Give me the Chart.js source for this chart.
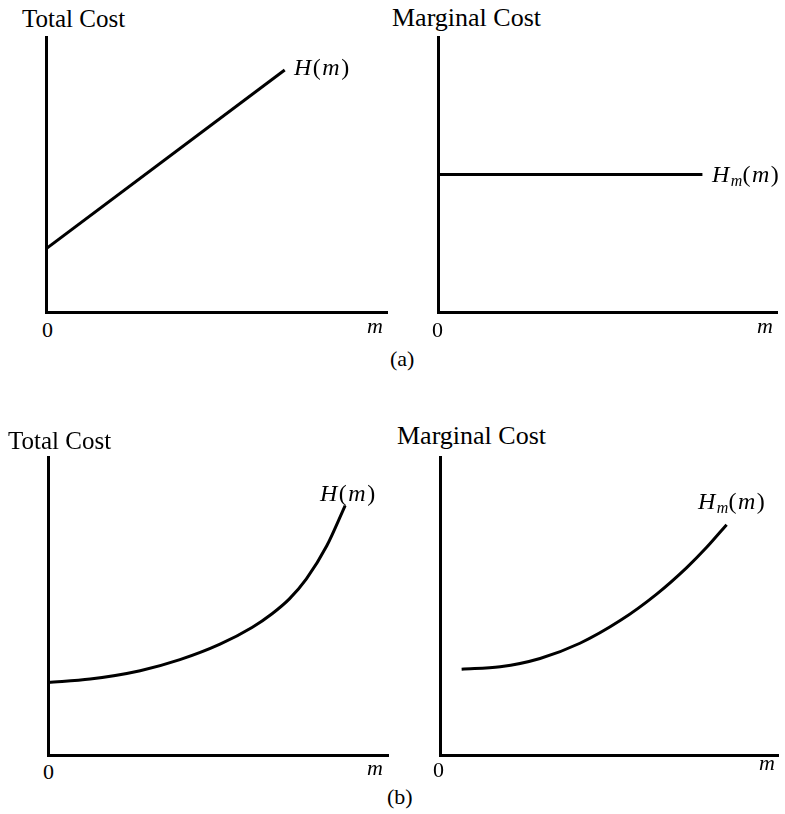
<!DOCTYPE html>
<html>
<head>
<meta charset="utf-8">
<script src="https://cdn.jsdelivr.net/npm/chart.js@4"></script>
<style>
  body { margin: 0; background: #fff; }
  #wrap { position: relative; width: 785px; height: 814px; font-family: "Liberation Serif", "DejaVu Serif", serif; color: #000; }
  canvas { position: absolute; }
  .lbl { position: absolute; white-space: nowrap; }
  .ttl { font-size: 25px; line-height: 25px; }
  .tick { font-size: 22px; line-height: 22px; }
  .fn { font-size: 24px; line-height: 24px; letter-spacing: 1.5px; }
  .fn sub { font-size: 16px; vertical-align: -4px; line-height: 0; letter-spacing: 0; }
</style>
</head>
<body>
<div id="wrap">
  <canvas id="totalA" width="349" height="283" style="left:42px;top:33px"></canvas>
  <canvas id="marginalA" width="347" height="283" style="left:434px;top:33px"></canvas>
  <canvas id="totalB" width="348" height="306" style="left:44px;top:453px"></canvas>
  <canvas id="marginalB" width="346" height="306" style="left:436px;top:453px"></canvas>

  <div class="lbl ttl" style="left:22px;top:6px">Total Cost</div>
  <div class="lbl ttl" style="left:392px;top:5px;font-size:26px">Marginal Cost</div>
  <div class="lbl fn" style="left:294px;top:55px"><i>H</i>(<i>m</i>)</div>
  <div class="lbl fn" style="left:712px;top:162px"><i>H<sub>m</sub></i>(<i>m</i>)</div>
  <div class="lbl tick" style="left:42px;top:319px">0</div>
  <div class="lbl tick" style="left:432px;top:319px">0</div>
  <div class="lbl tick" style="left:367px;top:315px"><i>m</i></div>
  <div class="lbl tick" style="left:757px;top:315px"><i>m</i></div>
  <div class="lbl tick" style="left:390px;top:348px">(a)</div>

  <div class="lbl ttl" style="left:8px;top:428px">Total Cost</div>
  <div class="lbl ttl" style="left:397px;top:423px;font-size:26px">Marginal Cost</div>
  <div class="lbl fn" style="left:320px;top:481px"><i>H</i>(<i>m</i>)</div>
  <div class="lbl fn" style="left:698px;top:489px"><i>H<sub>m</sub></i>(<i>m</i>)</div>
  <div class="lbl tick" style="left:43px;top:761px">0</div>
  <div class="lbl tick" style="left:433px;top:759px">0</div>
  <div class="lbl tick" style="left:367px;top:757px"><i>m</i></div>
  <div class="lbl tick" style="left:759px;top:752px"><i>m</i></div>
  <div class="lbl tick" style="left:387px;top:786px">(b)</div>
</div>
<script>
// (a) linear total cost and constant marginal cost
const totalA_x = [0, 7.0];
const totalA_y = [2.3, 8.8];
const marginalA_x = [0, 7.8];
const marginalA_y = [5.0, 5.0];

// (b) convex total cost and rising marginal cost
const totalB_x = [0, 1.24, 2.71, 3.88, 5.06, 6.0, 6.6, 7.1, 7.6, 8.2, 8.74];
const totalB_y = [2.43, 2.55, 2.83, 3.2, 3.72, 4.28, 4.75, 5.24, 5.91, 7.02, 8.37];
const marginalB_x = [0.64, 1.78, 2.96, 4.14, 5.33, 6.41, 7.3, 7.89, 8.48];
const marginalB_y = [2.88, 2.96, 3.24, 3.75, 4.51, 5.4, 6.29, 6.97, 7.73];

function toPoints(xs, ys) {
    return xs.map((x, i) => ({ x: x, y: ys[i] }));
}

function axis() {
    return {
        type: 'linear',
        min: 0,
        max: 10,
        grid: { display: false, drawTicks: false },
        ticks: { display: false },
        border: { display: true, color: '#000', width: 3 }
    };
}

function makeChart(id, xs, ys, smooth) {
    const ctx = document.getElementById(id).getContext('2d');
    return new Chart(ctx, {
        type: 'scatter',
        data: {
            datasets: [{
                data: toPoints(xs, ys),
                showLine: true,
                borderColor: '#000',
                borderWidth: 3,
                borderCapStyle: 'butt',
                pointRadius: 0,
                tension: smooth ? 0.4 : 0,
                cubicInterpolationMode: smooth ? 'monotone' : 'default'
            }]
        },
        options: {
            responsive: false,
            animation: false,
            layout: { padding: 4 },
            plugins: { legend: { display: false }, tooltip: { enabled: false } },
            scales: { x: axis(), y: axis() }
        }
    });
}

makeChart('totalA', totalA_x, totalA_y, false);
makeChart('marginalA', marginalA_x, marginalA_y, false);
makeChart('totalB', totalB_x, totalB_y, true);
makeChart('marginalB', marginalB_x, marginalB_y, true);
</script>
</body>
</html>
